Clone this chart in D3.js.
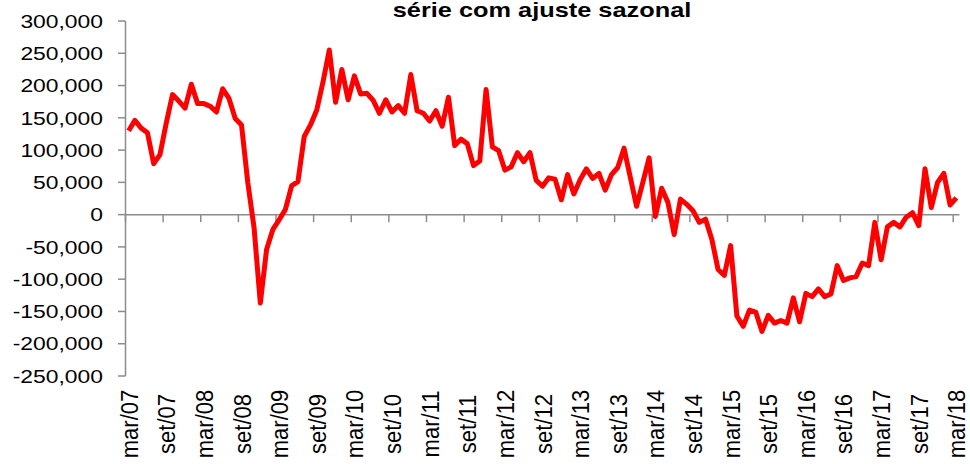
<!DOCTYPE html>
<html><head><meta charset="utf-8">
<script src="https://cdn.jsdelivr.net/npm/d3@7"></script>
<style>body{margin:0;background:#fff;} svg{display:block;} text{font-family:"Liberation Sans",Arial,sans-serif;fill:#000;}</style>
</head><body><svg id="c" width="970" height="464"></svg>
<script>
const title = "série com ajuste sazonal";
const monthNames = ["jan","fev","mar","abr","mai","jun","jul","ago","set","out","nov","dez"];
const startYear = 2007, startMonth = 2, nMonths = 133;
const values = [130,146,134,127,79,93,142,186,176,165,202,172,172,168,159,195,180,149,139,50,
 -20,-137,-54,-23,-8,8,45,51,121,139,162,206,255,174,225,178,215,187,188,177,
 157,178,159,169,157,217,161,157,145,161,137,182,107,117,110,76,83,194,105,99,
 69,74,96,82,96,53,44,57,55,23,62,32,54,71,56,64,38,62,73,103,
 58,13,50,88,-3,41,19,-31,24,16,6,-12,-7,-38,-85,-94,-48,-157,-173,-148,
 -151,-181,-156,-168,-164,-168,-129,-166,-122,-127,-115,-127,-123,-79,-102,-98,-96,-75,-79,-12,
 -70,-19,-12,-19,-4,3,-17,71,11,50,64,15,26].map(v=>v*1000);
const yTicks = [300000,250000,200000,150000,100000,50000,0,-50000,-100000,-150000,-200000,-250000];
const yTickLabels = ["300,000","250,000","200,000","150,000","100,000","50,000","0","-50,000","-100,000","-150,000","-200,000","-250,000"];
const xTickLabels = ["mar/07","set/07","mar/08","set/08","mar/09","set/09","mar/10","set/10","mar/11","set/11","mar/12","set/12","mar/13","set/13","mar/14","set/14","mar/15","set/15","mar/16","set/16","mar/17","set/17","mar/18"];

const categories = [];
for (let i=0;i<nMonths;i++){
  const m=(startMonth+i)%12, y=startYear+Math.floor((startMonth+i)/12);
  categories.push(monthNames[m]+"/"+String(y%100).padStart(2,"0"));
}
const data = categories.map((c,i)=>({c, v: values[i]}));

const svg = d3.select("#c");
const x = d3.scaleBand().domain(categories).range([125.5, 959.5]).padding(0);
const y = d3.scaleLinear().domain([-250000,300000]).range([376,21]);
const bw = x.bandwidth();
const axisColor = "#8c8c8c";

// title
svg.append("text").attr("transform","translate(542,17) scale(1.3,1)")
  .attr("text-anchor","middle").style("font-weight","bold").style("font-size","19.5px").text(title);

// y axis
const gy = svg.append("g");
gy.append("line").attr("x1",125.5).attr("x2",125.5).attr("y1",y(300000)).attr("y2",y(-250000))
  .attr("stroke",axisColor).attr("stroke-width",1.5);
yTicks.forEach((t,k)=>{
  gy.append("line").attr("x1",118).attr("x2",125.5).attr("y1",y(t)).attr("y2",y(t)).attr("stroke",axisColor).attr("stroke-width",1.5);
  gy.append("text").attr("transform",`translate(103,${y(t)}) scale(1.23,1)`).attr("dy","0.36em")
    .attr("text-anchor","end").style("font-size","18.6px").text(yTickLabels[k]);
});

// x axis at zero
const gx = svg.append("g");
gx.append("line").attr("x1",125.5).attr("x2",959.5).attr("y1",y(0)).attr("y2",y(0)).attr("stroke",axisColor).attr("stroke-width",1.5);
categories.forEach((c,i)=>{
  if (i%6===0){
    gx.append("line").attr("x1",x(c)).attr("x2",x(c)).attr("y1",y(0)).attr("y2",y(0)+7.5).attr("stroke",axisColor).attr("stroke-width",1.5);
  }
});
xTickLabels.forEach(lab=>{
  const cx = x(lab)+bw/2;
  svg.append("text").attr("transform",`translate(${cx+9},424) scale(1.05,1) rotate(-90)`)
    .attr("text-anchor","middle").style("font-size","22px").text(lab);
});

// line
const line = d3.line().x(d=>x(d.c)+bw/2).y(d=>y(d.v));
svg.append("path").datum(data).attr("d",line).attr("fill","none").attr("stroke","#ff0000")
  .attr("stroke-width",5).attr("stroke-linejoin","round").attr("stroke-linecap","butt");
</script></body></html>
